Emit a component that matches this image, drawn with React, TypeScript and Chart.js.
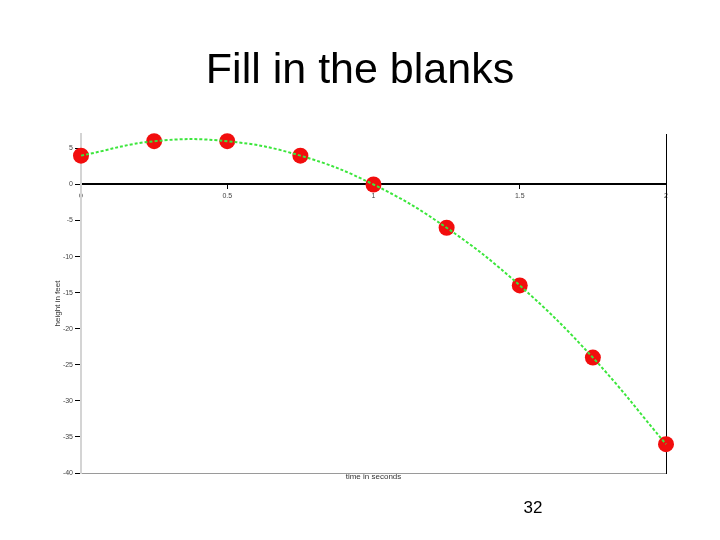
import React, { useEffect, useRef } from "react";
import { Chart, registerables } from "chart.js";

Chart.register(...registerables);

const titleText = "Fill in the blanks";
const pageNumber = "32";
const xLabel = "time in seconds";
const yLabel = "height in feet";

const times = [0, 0.25, 0.5, 0.75, 1, 1.25, 1.5, 1.75, 2];
const heights = [4, 6, 6, 4, 0, -6, -14, -24, -36];

const xTicks = [0, 0.5, 1, 1.5, 2];
const yTicks = [5, 0, -5, -10, -15, -20, -25, -30, -35, -40];

const FONT = "'Liberation Sans', Arial, sans-serif";

export default function App() {
  const ref = useRef<HTMLCanvasElement | null>(null);

  useEffect(() => {
    if (!ref.current) return;
    const pts = times.map((t, i) => ({ x: t, y: heights[i] }));
    const chart = new Chart(ref.current, {
      type: "scatter",
      data: {
        datasets: [
          {
            label: "curve",
            data: pts,
            showLine: true,
            borderColor: "#3ce63c",
            borderWidth: 2,
            borderDash: [3, 2],
            tension: 0.4,
            pointRadius: 0,
            pointHoverRadius: 0,
            fill: false,
            clip: false as any,
          },
          {
            label: "points",
            data: pts,
            showLine: false,
            pointRadius: 8,
            pointHoverRadius: 8,
            pointBackgroundColor: "#f20d0d",
            pointBorderColor: "#f20d0d",
            pointBorderWidth: 0,
            clip: false as any,
          },
        ],
      },
      options: {
        animation: false,
        responsive: false,
        events: [],
        layout: { padding: { left: 53, top: 134, right: 54, bottom: 53 } },
        plugins: {
          legend: { display: false },
          tooltip: { enabled: false },
          title: { display: false },
        },
        scales: {
          x: {
            type: "linear",
            position: "bottom",
            min: 0,
            max: 2,
            ticks: { display: false },
            grid: { drawOnChartArea: false, drawTicks: false, color: "rgba(0,0,0,0)" },
            border: { display: true, color: "#9a9a9a", width: 1 },
            title: {
              display: true,
              text: xLabel,
              color: "#333",
              font: { family: FONT, size: 8 },
              padding: { top: 0, bottom: 5 },
            },
            afterFit: (s: any) => {
              s.height = 14;
            },
          },
          x2: {
            type: "linear",
            position: { y: 0 } as any,
            min: 0,
            max: 2,
            afterBuildTicks: (s: any) => {
              s.ticks = xTicks.map((v) => ({ value: v }));
            },
            ticks: {
              color: "#444",
              font: { family: FONT, size: 7 },
              padding: 3,
              maxRotation: 0,
              autoSkip: false,
              callback: (v: any) => String(v),
            },
            grid: { drawOnChartArea: false, color: "#000", tickLength: 4 },
            border: { display: true, color: "#000", width: 2 },
          },
          y: {
            type: "linear",
            position: "left",
            min: -40,
            max: 7,
            afterBuildTicks: (s: any) => {
              s.ticks = yTicks.map((v) => ({ value: v }));
            },
            ticks: {
              color: "#444",
              font: { family: FONT, size: 7 },
              padding: 2,
              autoSkip: false,
              callback: (v: any) => String(v),
            },
            grid: { drawOnChartArea: false, color: "#000", tickLength: 6 },
            border: { display: true, color: "#d4d4d4", width: 2 },
            title: {
              display: true,
              text: yLabel,
              color: "#333",
              font: { family: FONT, size: 8 },
              padding: { top: 0, bottom: 0 },
            },
            afterFit: (s: any) => {
              s.width = 28;
            },
          },
          y2: {
            type: "linear",
            position: "right",
            min: -40,
            max: 7,
            ticks: { display: false },
            grid: { drawOnChartArea: false, drawTicks: false, color: "rgba(0,0,0,0)" },
            border: { display: true, color: "#000", width: 1 },
            afterFit: (s: any) => {
              s.width = 0;
            },
          },
        },
      },
    });
    return () => chart.destroy();
  }, []);

  return (
    <div
      style={{
        position: "fixed",
        left: 0,
        top: 0,
        width: 720,
        height: 540,
        background: "#fff",
        overflow: "hidden",
        fontFamily: FONT,
      }}
    >
      <canvas
        ref={ref}
        width={720}
        height={540}
        style={{ position: "absolute", left: 0, top: 0, width: 720, height: 540 }}
      />
      <div
        style={{
          position: "absolute",
          left: 0,
          top: 47,
          width: 720,
          textAlign: "center",
          fontSize: 43,
          lineHeight: "43px",
          color: "#000",
          whiteSpace: "nowrap",
        }}
      >
        {titleText}
      </div>
      <div
        style={{
          position: "absolute",
          left: 483,
          top: 499,
          width: 100,
          textAlign: "center",
          fontSize: 17,
          lineHeight: "17px",
          color: "#000",
        }}
      >
        {pageNumber}
      </div>
    </div>
  );
}
